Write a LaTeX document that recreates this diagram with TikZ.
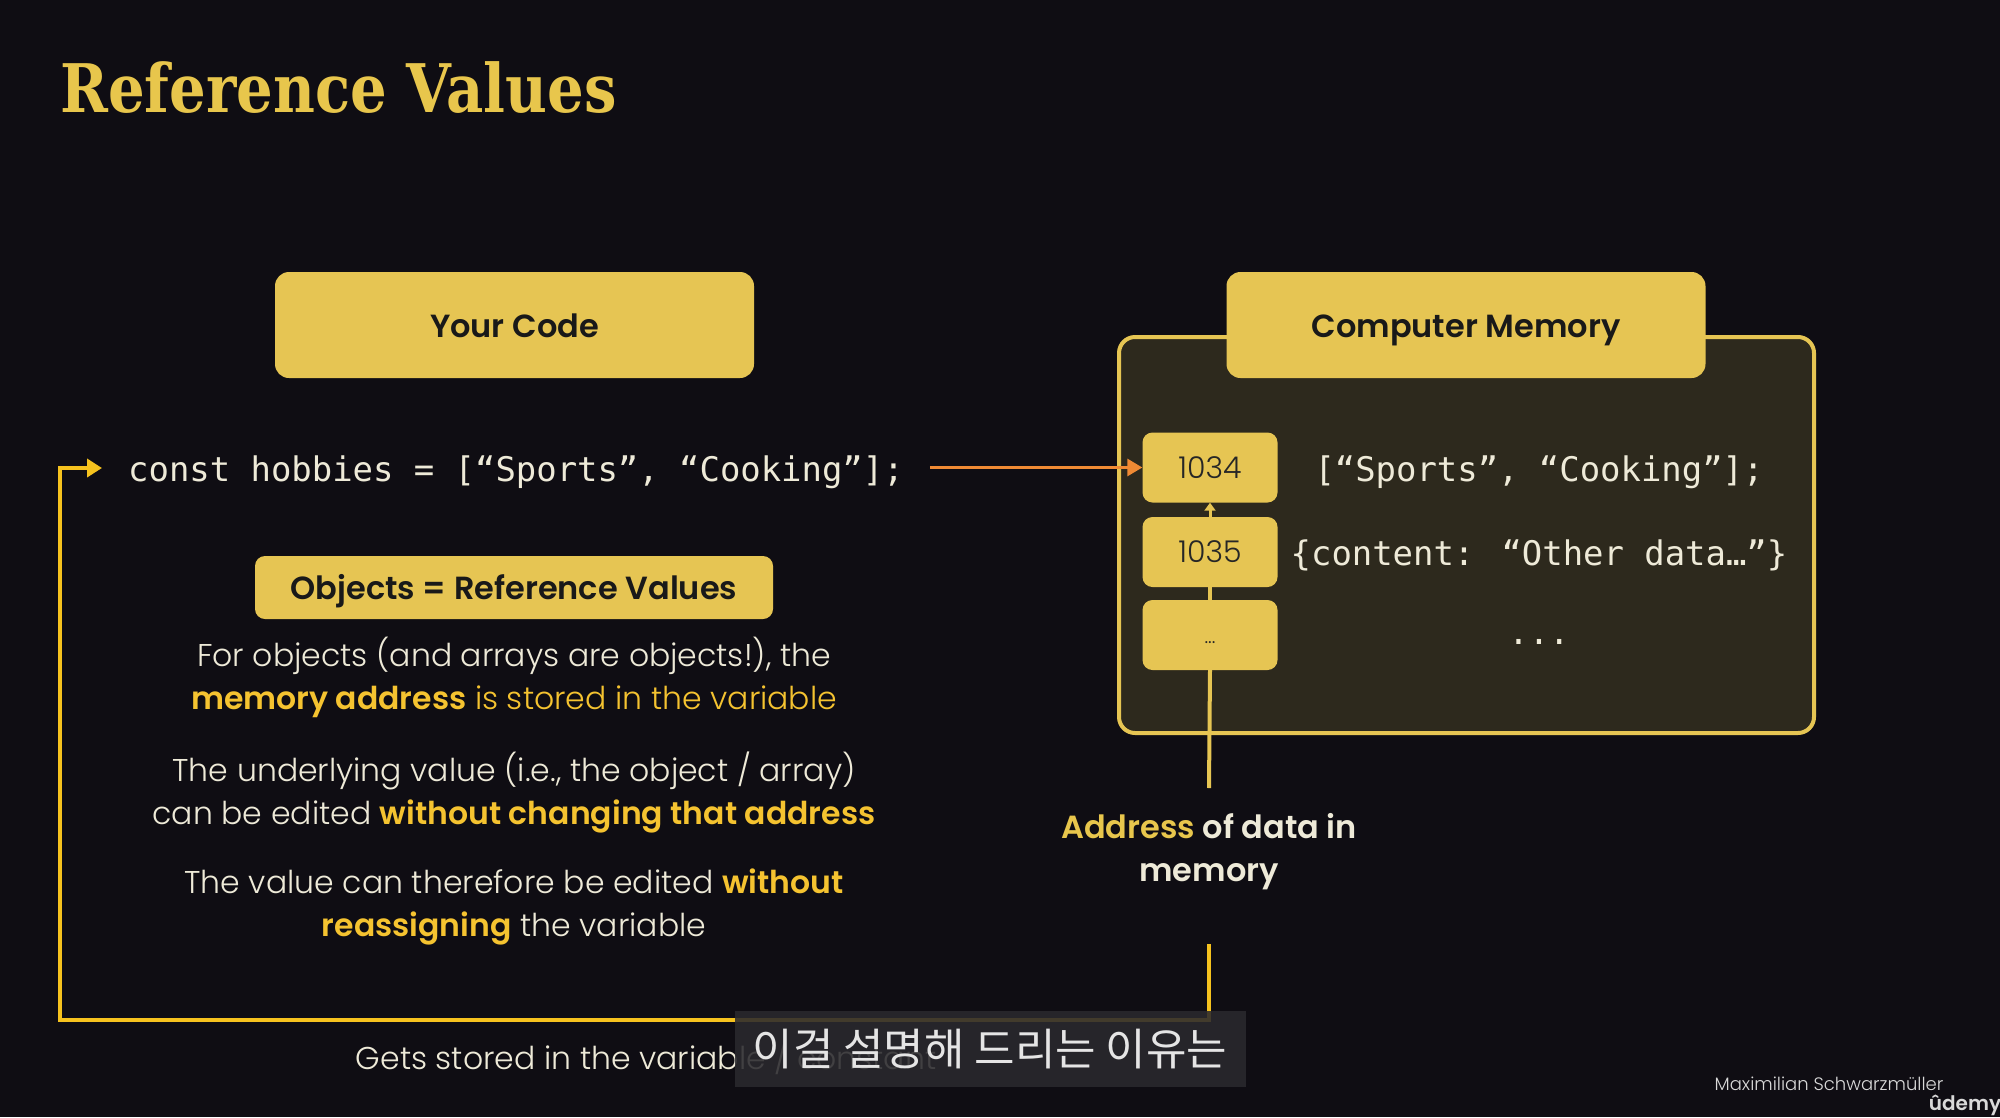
\documentclass[tikz,border=0pt]{standalone}
\usepackage{fontspec}
\usetikzlibrary{arrows.meta,positioning}

\definecolor{slidebg}{HTML}{0F0D13}
\definecolor{boxyellow}{HTML}{E6C553}
\definecolor{hiyellow}{HTML}{F5C330}
\definecolor{loopgold}{HTML}{F6C21E}
\definecolor{memfill}{HTML}{2D291D}
\definecolor{cream}{HTML}{EEEAD8}
\definecolor{arroworange}{HTML}{F08A34}
\definecolor{titleyellow}{HTML}{E8C64C}
\definecolor{subbg}{HTML}{2A292E}

\newfontfamily\titlefont{DejaVu Serif}
\newfontfamily\codefont{DejaVu Sans Mono}
\newfontfamily\cjkfont{Noto Sans CJK KR}
\IfFontExistsTF{Poppins Light}{%
  \IfFontExistsTF{Poppins SemiBold}{%
    \newfontfamily\bodyfont{Poppins Light}[BoldFont={Poppins SemiBold}]}{%
    \newfontfamily\bodyfont{Poppins Light}[BoldFont={Poppins Bold}]}}{%
  \newfontfamily\bodyfont{Poppins}}
\IfFontExistsTF{Poppins SemiBold}{%
  \newfontfamily\labelfont{Poppins SemiBold}}{%
  \newfontfamily\labelfont{Poppins}[UprightFont=*, UprightFeatures={FakeBold=1}]}

\newcommand{\hi}[1]{\textcolor{hiyellow}{\textbf{#1}}}

\begin{document}
\begin{tikzpicture}[
        x=1pt, y=-1pt,
        headbox/.style={fill=boxyellow, rounded corners=14pt, minimum width=479pt, minimum height=106pt,
              text height=24pt, text depth=0pt,
              text=black!90, font=\labelfont\fontsize{32}{38}\selectfont},
        addrbox/.style={fill=boxyellow, rounded corners=10pt, minimum width=135pt, minimum height=70pt,
              text=black!85, font=\bodyfont\fontsize{30}{36}\selectfont},
        codetext/.style={text=cream, inner sep=0pt, text height=25.8pt, text depth=6.8pt,
              font=\codefont\fontsize{33.9}{40}\selectfont},
        para/.style={text=cream, align=center, inner sep=0pt, font=\bodyfont\fontsize{31.5}{43}\selectfont},
        loopline/.style={draw=loopgold, line width=4pt},
        link/.style={draw=boxyellow, line width=4pt},
    ]
        % --- background and frame of the slide ---
        \fill[slidebg] (0,0) rectangle (2000,1117);
        \useasboundingbox (0,0) rectangle (2000,1117);

        \node[anchor=base west, inner sep=0pt, text=titleyellow,
              font=\titlefont\bfseries\fontsize{67}{70}\selectfont] (title) at (60,112)
              {\scalebox{0.86}[1]{Reference Values}};

        % --- memory panel ---
        \node[draw=boxyellow, line width=4pt, fill=memfill, rounded corners=16pt,
              minimum width=695pt, minimum height=396pt] (memframe) at (1466.5,535) {};

        % --- headers ---
        \node[headbox] (codebox) at (514.5,325) {Your Code};
        \node[headbox] (membox)  at (1466,325)  {Computer Memory};

        % --- addresses ---
        \node[addrbox] (addrA) at (1210,467.5) {1034};
        \node[addrbox] (addrB) at (1210,552)   {1035};
        \node[addrbox, text height=16pt, text depth=0pt,
              font=\bodyfont\fontsize{20}{24}\selectfont] (addrC) at (1210,635) {...};

        % --- stored values ---
        \node[codetext] (valA) at (1539,471.5) {[“Sports”, “Cooking”];};
        \node[codetext] (valB) at (1539,555.5) {\{content: “Other data…”\}};
        \node[codetext] (valC) at (1539,635)   {...};

        % --- the code line ---
        \node[codetext, anchor=west] (codeline) at (128,471.5) {const hobbies = [“Sports”, “Cooking”];};

        % --- explanation ---
        \node[fill=boxyellow, rounded corners=10pt, minimum width=518pt, minimum height=63pt,
              text height=23pt, text depth=0pt,
              text=black!90, font=\labelfont\fontsize{32}{38}\selectfont] (objbox) at (514,587.5)
              {Objects = Reference Values};
        \node[para] (para1) at (514,677)
              {For objects (and arrays are objects!), the\\
               \textcolor{hiyellow}{\textbf{memory address} is stored in the variable}};
        \node[para] (para2) at (514,792)
              {The underlying value (i.e., the object / array)\\
               can be edited \hi{without changing that address}};
        \node[para] (para3) at (514,907)
              {The value can therefore be edited \hi{without}\\
               \hi{reassigning} the variable};

        \node[para, font=\labelfont\fontsize{32}{43}\selectfont] (addrlabel) at (1209,852)
              {\textcolor{titleyellow}{Address} of data in\\memory};

        \node[para] (storedlabel) at (646,1057) {Gets stored in the variable / constant};

        % --- connectors ---
        \coordinate (gapTop) at (1209,788);
        \coordinate (gapBot) at (1209,944);
        \coordinate (loopBR) at (1209,1020);
        \coordinate (loopBL) at (60,1020);
        \coordinate (loopTL) at (60,468);

        \draw[draw=arroworange, line width=3pt, shorten <=26pt, -{Triangle[length=15pt,width=17pt]}]
              (codeline.east |- addrA.west) -- (addrA.west);
        \draw[link, line width=3pt, -{Triangle[length=8pt,width=11pt]}] (addrB.north) -- (addrA.south);
        \draw[link] (addrC.north) -- (addrB.south);
        \draw[link] (addrC.south) -- (gapTop);
        \draw[loopline, -{Triangle[length=15pt,width=18pt]}, shorten >=26pt]
              (gapBot) -- (loopBR) -- (loopBL) -- (loopTL) -- (loopTL -| codeline.west);

        % --- subtitle and credits ---
        \node[fill=subbg, fill opacity=0.88, text opacity=1, text=white!90!black,
              minimum width=511pt, minimum height=76pt,
              font=\cjkfont\fontsize{44}{50}\selectfont] (subtitle) at (990,1049) {이걸 설명해 드리는 이유는};
        \node[text=white!85!black, inner sep=0pt, font=\bodyfont\fontsize{18}{22}\selectfont]
              (author) at (1829,1084) {Maximilian Schwarzmüller};
        \node[anchor=base, text=white!85!black, inner sep=0pt, font=\labelfont\fontsize{20}{24}\selectfont]
              (logo) at (1965,1110) {ûdemy};
    \end{tikzpicture}
\end{document}
